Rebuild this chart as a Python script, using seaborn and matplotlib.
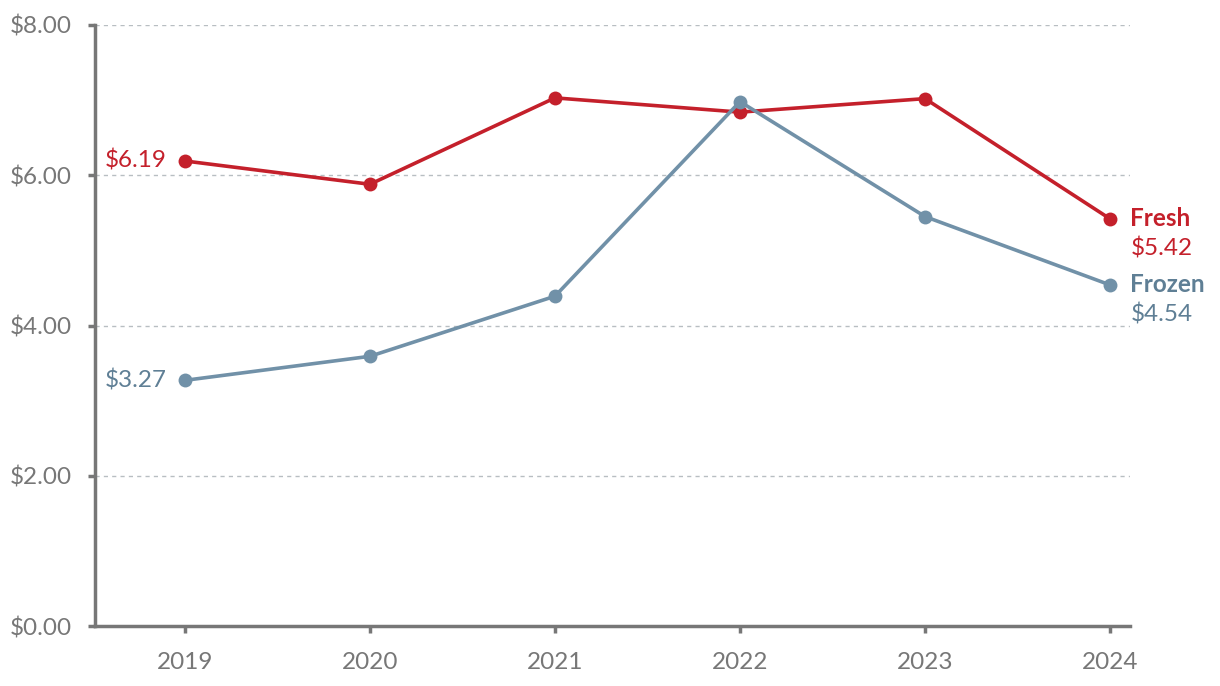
import matplotlib
matplotlib.use('Agg')
import matplotlib.pyplot as plt
import seaborn as sns
import pandas as pd

years = [2019, 2020, 2021, 2022, 2023, 2024]
fresh = [6.19, 5.88, 7.03, 6.84, 7.02, 5.42]
frozen = [3.27, 3.59, 4.39, 6.98, 5.45, 4.54]
series_names = ['Fresh', 'Frozen']
y_ticks = [0, 2, 4, 6, 8]

RED = '#C4202B'
BLUE = '#7191A8'
BLUE_TXT = '#5F7F95'
GREY = '#777777'
FS = 17.5

sns.set_theme(style='white')
plt.rcParams['font.family'] = ['Lato', 'DejaVu Sans']

df = pd.DataFrame({
    'year': years * 2,
    'price': fresh + frozen,
    'type': [series_names[0]] * len(years) + [series_names[1]] * len(years),
})

fig = plt.figure(figsize=(12.2, 6.86), dpi=100)
ax = fig.add_axes([95 / 1220, 1 - 626 / 686, (1130 - 95) / 1220, (626 - 25) / 686])

sns.lineplot(data=df, x='year', y='price', hue='type',
             palette={'Fresh': RED, 'Frozen': BLUE},
             marker='o', markersize=10, markeredgewidth=0,
             linewidth=2.6, legend=False, ax=ax, zorder=3)

ax.set_xlim(years[0] - 0.486, years[-1] + 0.108)
ax.set_ylim(0, 8)
ax.set_xticks(years)
ax.set_xticklabels([str(y) for y in years])
ax.set_yticks(y_ticks)
ax.set_yticklabels(['$%.2f' % v for v in y_ticks])
ax.set_xlabel('')
ax.set_ylabel('')

for v in y_ticks[1:]:
    ax.axhline(v, color='#b8bec2', lw=1.0, ls=(0, (3, 3)), zorder=1)

for s in ['top', 'right']:
    ax.spines[s].set_visible(False)
for s in ['left', 'bottom']:
    ax.spines[s].set_color(GREY)
    ax.spines[s].set_linewidth(2.5)
ax.tick_params(axis='both', bottom=True, left=True, length=5, width=2.5,
               color=GREY, labelcolor=GREY, labelsize=FS)
ax.tick_params(axis='x', pad=14)
ax.tick_params(axis='y', pad=12)

# start labels
ax.text(years[0] - 0.1, fresh[0], '$%.2f' % fresh[0], color=RED, fontsize=FS,
        ha='right', va='center')
ax.text(years[0] - 0.1, frozen[0], '$%.2f' % frozen[0], color=BLUE_TXT, fontsize=FS,
        ha='right', va='center')

# end labels
ax.text(years[-1] + 0.11, fresh[-1], series_names[0], color=RED, fontsize=FS,
        fontweight='bold', ha='left', va='center')
ax.text(years[-1] + 0.11, fresh[-1] - 0.4, '$%.2f' % fresh[-1], color=RED, fontsize=FS,
        ha='left', va='center')
ax.text(years[-1] + 0.11, frozen[-1], series_names[1], color=BLUE_TXT, fontsize=FS,
        fontweight='bold', ha='left', va='center')
ax.text(years[-1] + 0.11, frozen[-1] - 0.4, '$%.2f' % frozen[-1], color=BLUE_TXT, fontsize=FS,
        ha='left', va='center')

for t in ax.texts:
    t.set_clip_on(False)

fig.savefig('out.png', dpi=100)
